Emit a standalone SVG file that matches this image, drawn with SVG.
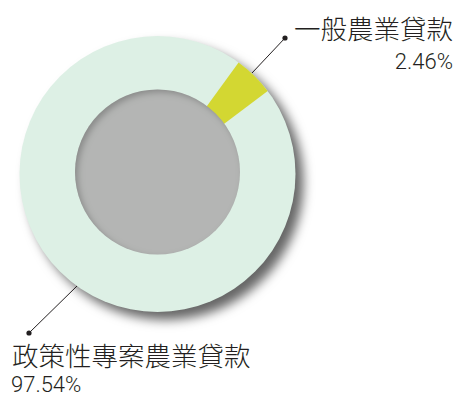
<svg xmlns="http://www.w3.org/2000/svg" width="457" height="398" viewBox="0 0 457 398">
  <style>
    .cjk { font-family: "Noto Sans CJK TC", "Noto Sans CJK SC", sans-serif; font-weight: 300; font-size: 26.5px; fill: #231f20; }
    .pct { font-family: Roboto, "Liberation Sans", sans-serif; font-weight: 300; font-size: 22px; fill: #231f20; }
    .leader { stroke: #231f20; stroke-width: 1; fill: none; }
    .dot { fill: #231f20; }
  </style>
  <defs>
    <filter id="drop" x="-20%" y="-20%" width="150%" height="150%">
      <feGaussianBlur in="SourceAlpha" stdDeviation="5.5"/>
      <feOffset dx="8" dy="8" result="b"/>
      <feFlood flood-color="#000" flood-opacity="0.6"/>
      <feComposite in2="b" operator="in"/>
    </filter>
    <filter id="inset" x="-10%" y="-10%" width="120%" height="120%">
      <feFlood flood-color="#000" flood-opacity="0.45" result="f"/>
      <feComposite in="f" in2="SourceAlpha" operator="out" result="inv"/>
      <feOffset dx="3" dy="3"/>
      <feGaussianBlur stdDeviation="3"/>
      <feComposite in2="SourceAlpha" operator="in" result="sh"/>
      <feMerge><feMergeNode in="SourceGraphic"/><feMergeNode in="sh"/></feMerge>
    </filter>
  </defs>

  <g id="donut-shadow">
    <circle cx="157.5" cy="174" r="138" fill="#000" filter="url(#drop)"/>
  </g>
  <g id="slice-policy">
    <circle cx="157.5" cy="174" r="138" fill="#ddf0e5"/>
  </g>
  <g id="slice-general">
    <path d="M157.5,174 L238.6,62.4 A138,138 0 0,1 267.7,91 Z" fill="#d3d732"/>
  </g>
  <g id="hole">
    <circle cx="157.5" cy="172" r="82.5" fill="#b4b5b4" filter="url(#inset)"/>
  </g>

  <g id="connectors">
    <line class="leader" x1="252" y1="73" x2="285" y2="38"/>
    <circle class="dot" cx="285" cy="38" r="2.6"/>
    <line class="leader" x1="77" y1="286" x2="29" y2="333"/>
    <circle class="dot" cx="29" cy="333" r="2.6"/>
  </g>

  <g id="label-general">
    <text class="cjk" x="294" y="39">一般農業貸款</text>
    <text class="pct" x="453" y="69" text-anchor="end">2.46%</text>
  </g>
  <g id="label-policy">
    <text class="cjk" x="12" y="366">政策性專案農業貸款</text>
    <text class="pct" x="11" y="392">97.54%</text>
  </g>
</svg>
